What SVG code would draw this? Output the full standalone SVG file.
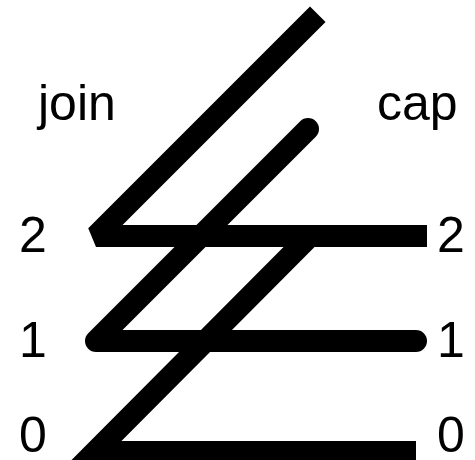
<svg xmlns="http://www.w3.org/2000/svg" width="475" height="460" viewBox="0 0 475 460">
<style>
.t{font-family:"Liberation Sans",Arial,sans-serif;font-size:50px;fill:#000}
.ln{fill:none;stroke:#000;stroke-width:22}
</style>
<rect width="475" height="460" fill="#fff"/>
<g id="connectors">
<path id="line0" class="ln" d="M308 238 L95 452 L416 452" stroke-linejoin="miter" stroke-linecap="butt" stroke-miterlimit="10"/>
<path id="line1" class="ln" d="M308 129 L96 341 L416 341" stroke-linejoin="round" stroke-linecap="round"/>
<path id="line2" class="ln" d="M310 22 L96 236 L416 236" stroke-linejoin="bevel" stroke-linecap="square"/>
</g>
<g id="labels">
<text class="t" x="38" y="120">join</text>
<text class="t" x="377" y="120">cap</text>
<text class="t" x="19" y="252">2</text>
<text class="t" x="19" y="357">1</text>
<text class="t" x="19" y="452">0</text>
<text class="t" x="437" y="252">2</text>
<text class="t" x="437" y="357">1</text>
<text class="t" x="437" y="452">0</text>
</g>
</svg>
